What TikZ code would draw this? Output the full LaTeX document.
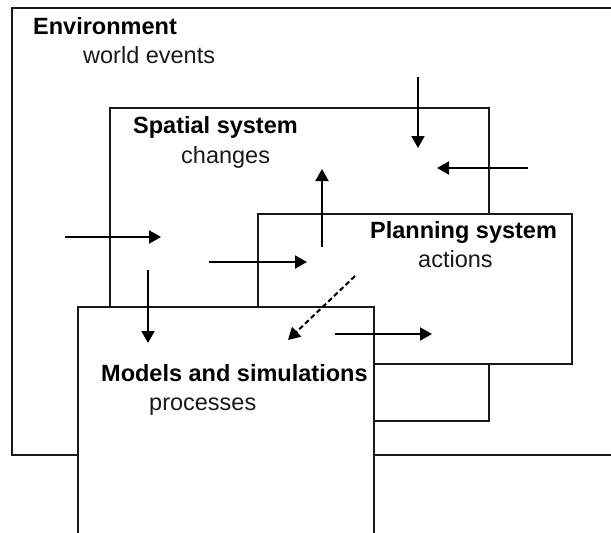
\documentclass[tikz,border=0pt]{standalone}
\usepackage{fontspec}
\setmainfont{Liberation Sans}
\usetikzlibrary{arrows.meta}
\begin{document}
\begin{tikzpicture}[x=1pt,y=-1pt,
  box/.style={draw=black!90, line width=2pt, fill=white, rectangle, inner sep=0pt, outer sep=0pt, anchor=north west},
  title/.style={anchor=base west, inner sep=0pt, font=\fontsize{23.5}{28}\selectfont\bfseries, text=black},
  sub/.style={anchor=base west, inner sep=0pt, font=\fontsize{23.5}{28}\selectfont, text=black!90},
  flow/.style={line width=2pt, draw=black, -{Triangle[length=12pt,width=13pt]}},
  dflow/.style={flow, dash pattern=on 5pt off 3pt}]
\useasboundingbox (0,0) rectangle (611,533);
\clip (0,0) rectangle (611,533);
\node[box, minimum width=628pt, minimum height=447pt] (env) at (12,8) {};
\node[box, minimum width=379pt, minimum height=313pt] (spatial) at (110,108) {};
\node[box, minimum width=314pt, minimum height=150pt] (planning) at (258,214) {};
\node[box, minimum width=296pt, minimum height=260pt] (models) at (78,307) {};
\node[title] (envT) at (33,34) {Environment};
\node[sub] (envS) at (83,63) {world events};
\node[title] (spaT) at (133,133) {Spatial system};
\node[sub] (spaS) at (181,163) {changes};
\node[title] (plaT) at (370,238) {Planning system};
\node[sub] (plaS) at (418,267) {actions};
\node[title] (modT) at (101,381) {Models and simulations};
\node[sub] (modS) at (149,410) {processes};
\coordinate (a1s) at (418,77);  \coordinate (a1e) at (418,148);
\coordinate (a2s) at (528,168); \coordinate (a2e) at (437,168);
\coordinate (a3s) at (322,247); \coordinate (a3e) at (322,169);
\coordinate (a4s) at (65,237);  \coordinate (a4e) at (161,237);
\coordinate (a5s) at (148,270); \coordinate (a5e) at (148,343);
\coordinate (a6s) at (209,262); \coordinate (a6e) at (307,262);
\coordinate (a7s) at (355,276); \coordinate (a7e) at (288,340);
\coordinate (a8s) at (335,334); \coordinate (a8e) at (432,334);
\draw[flow] (a1s) -- (a1e);
\draw[flow] (a2s) -- (a2e);
\draw[flow] (a3s) -- (a3e);
\draw[flow] (a4s) -- (a4e);
\draw[flow] (a5s) -- (a5e);
\draw[flow] (a6s) -- (a6e);
\draw[dflow] (a7s) -- (a7e);
\draw[flow] (a8s) -- (a8e);
\end{tikzpicture}
\end{document}
